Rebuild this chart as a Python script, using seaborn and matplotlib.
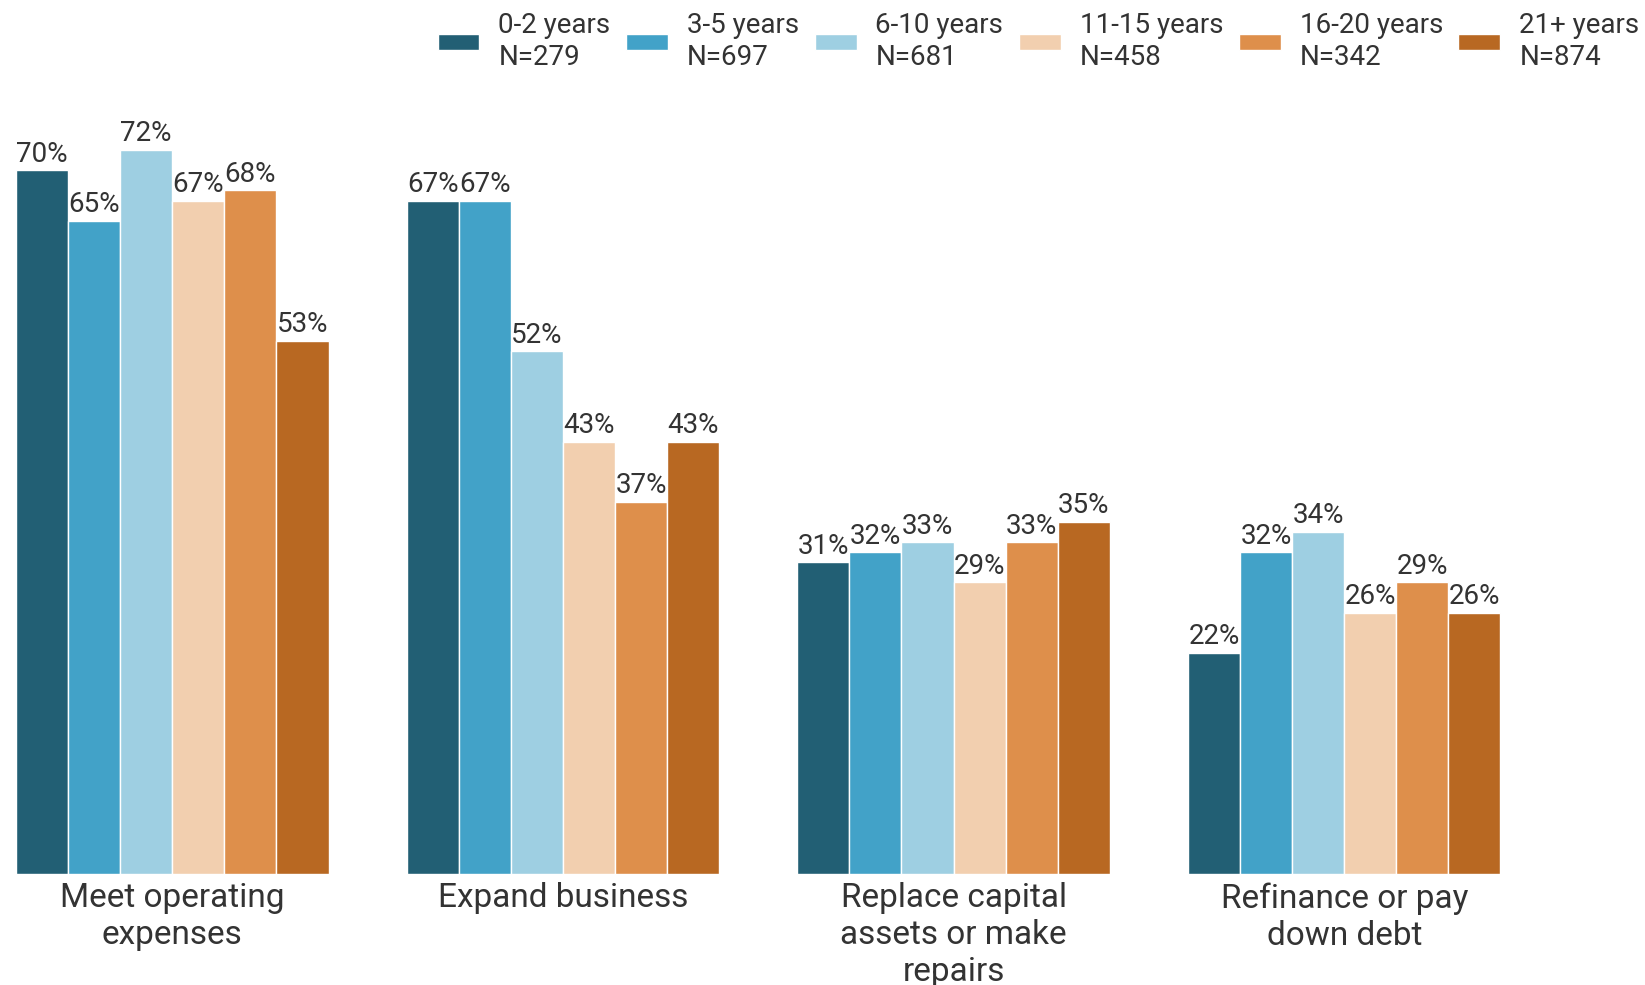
import matplotlib
matplotlib.use("Agg")
import matplotlib.pyplot as plt
import seaborn as sns
import pandas as pd

categories = ["Meet operating\nexpenses", "Expand business",
              "Replace capital\nassets or make\nrepairs", "Refinance or pay\ndown debt"]
groups = ["0-2 years", "3-5 years", "6-10 years", "11-15 years", "16-20 years", "21+ years"]
group_n = ["N=279", "N=697", "N=681", "N=458", "N=342", "N=874"]
values_0_2 = [70, 67, 31, 22]
values_3_5 = [65, 67, 32, 32]
values_6_10 = [72, 52, 33, 34]
values_11_15 = [67, 43, 29, 26]
values_16_20 = [68, 37, 33, 29]
values_21p = [53, 43, 35, 26]
colors = ["#225F74", "#42A2C8", "#9ECFE2", "#F2CFAF", "#DE8F4B", "#B86822"]

series = [values_0_2, values_3_5, values_6_10, values_11_15, values_16_20, values_21p]
labels = [f"{g}\n{n}" for g, n in zip(groups, group_n)]
rows = []
for lab, vals in zip(labels, series):
    for c, v in zip(categories, vals):
        rows.append({"category": c, "group": lab, "value": v})
df = pd.DataFrame(rows)

sns.set_theme(style="white")
plt.rcParams["font.family"] = ["Roboto", "DejaVu Sans"]
text_color = "#333333"

fig = plt.figure(figsize=(16.45, 9.85), dpi=100)
ax = fig.add_axes([16 / 1645, 111 / 985, 1 - 16 / 1645, (874 - 100) / 985])

sns.barplot(data=df, x="category", y="value", hue="group", hue_order=labels,
            order=categories, palette=colors, width=0.8, ax=ax,
            edgecolor="white", linewidth=1.0, saturation=1, legend=True)

for cont in ax.containers:
    ax.bar_label(cont, labels=[f"{v:.0f}%" for v in cont.datavalues],
                 padding=2, fontsize=20, color=text_color)

ax.set_xlim(-0.4, 3.77)
ax.set_ylim(0, 77)
ax.set_xlabel("")
ax.set_ylabel("")
ax.set_yticks([])
ax.tick_params(axis="x", length=0, labelsize=24, labelcolor=text_color, pad=6)
for s in ["top", "right", "left", "bottom"]:
    ax.spines[s].set_visible(False)

handles, lbls = ax.get_legend_handles_labels()
ax.get_legend().remove()
leg = fig.legend(handles, lbls, loc="upper right", bbox_to_anchor=(1.0, 0.993), ncol=6,
                 frameon=False, fontsize=20, handlelength=1.51, handleheight=0.53,
                 handletextpad=0.68, columnspacing=0.56, labelcolor=text_color,
                 borderaxespad=0.1, borderpad=0.1)
for t in leg.get_texts():
    t.set_linespacing(1.2)

fig.savefig("out.png", dpi=100)
